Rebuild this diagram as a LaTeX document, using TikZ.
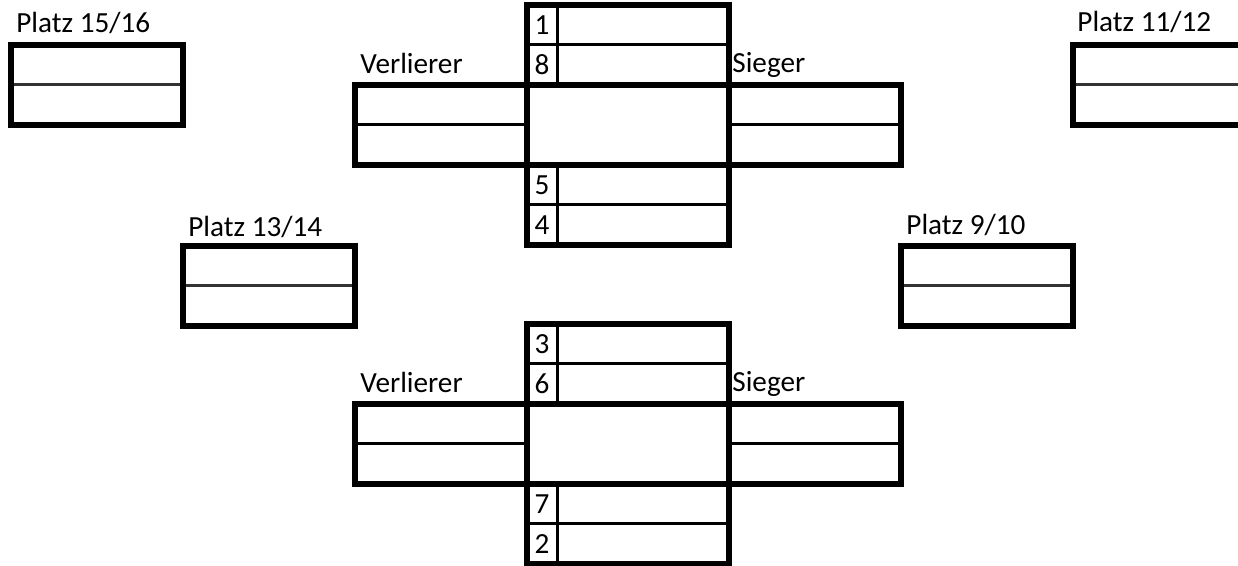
\documentclass[tikz,border=0pt]{standalone}
\usepackage{fontspec}
\setmainfont{Carlito}
\usetikzlibrary{positioning}

\begin{document}
\begin{tikzpicture}[
    x=0.5pt, y=-0.5pt,
    font=\fontsize{14.6}{17}\selectfont,
    cell/.style={rectangle, draw, line width=1.5pt, inner sep=0pt, outer sep=0pt},
    numcell/.style={cell, minimum width=15pt, minimum height=20pt},
    namecell/.style={cell, minimum width=86pt, minimum height=20pt},
    half/.style={cell, minimum width=86pt, minimum height=20pt},
    spot/.style={half, draw=black!80},
    core/.style={rectangle, inner sep=0pt, outer sep=0pt, minimum width=101pt, minimum height=40pt},
    frame/.style={draw, line width=3pt},
    caption/.style={anchor=base west, inner sep=0pt},
]

\clip (0,0) rectangle (1238,566);

% upper cross
\node[numcell]  (a1)  at (542,25) {1};
\node[namecell, right=0pt of a1] (a1n) {};
\node[numcell,  below=0pt of a1] (a8)  {8};
\node[namecell, right=0pt of a8] (a8n) {};
\node[core,     below right=0pt and 0pt of a8.south west] (a0) {};
\node[half,     below left=0pt and 0pt of a0.north west]  (aL1) {};
\node[half,     below=0pt of aL1] (aL2) {};
\node[half,     below right=0pt and 0pt of a0.north east] (aR1) {};
\node[half,     below=0pt of aR1] (aR2) {};
\node[numcell,  below right=0pt and 0pt of a0.south west] (a5) {5};
\node[namecell, right=0pt of a5] (a5n) {};
\node[numcell,  below=0pt of a5] (a4)  {4};
\node[namecell, right=0pt of a4] (a4n) {};

\draw[frame] (a1.north west)  rectangle (a4n.south east);
\draw[frame] (aL1.north west) rectangle (aR2.south east);

\node[caption] (aLose) at (360,74) {Verlierer};
\node[caption] (aWin)  at (732,73) {Sieger};

% lower cross
\node[numcell]  (b3)  at (542,344) {3};
\node[namecell, right=0pt of b3] (b3n) {};
\node[numcell,  below=0pt of b3] (b6)  {6};
\node[namecell, right=0pt of b6] (b6n) {};
\node[core,     below right=0pt and 0pt of b6.south west] (b0) {};
\node[half,     below left=0pt and 0pt of b0.north west]  (bL1) {};
\node[half,     below=0pt of bL1] (bL2) {};
\node[half,     below right=0pt and 0pt of b0.north east] (bR1) {};
\node[half,     below=0pt of bR1] (bR2) {};
\node[numcell,  below right=0pt and 0pt of b0.south west] (b7) {7};
\node[namecell, right=0pt of b7] (b7n) {};
\node[numcell,  below=0pt of b7] (b2)  {2};
\node[namecell, right=0pt of b2] (b2n) {};

\draw[frame] (b3.north west)  rectangle (b2n.south east);
\draw[frame] (bL1.north west) rectangle (bR2.south east);

\node[caption] (bLose) at (360,393) {Verlierer};
\node[caption] (bWin)  at (732,392) {Sieger};

% placement boxes
\node[spot] (p15a) at (97,65) {};
\node[spot, below=0pt of p15a] (p15b) {};
\node[spot] (p13a) at (269,266) {};
\node[spot, below=0pt of p13a] (p13b) {};
\node[spot] (p9a)  at (987,266) {};
\node[spot, below=0pt of p9a]  (p9b)  {};
\node[spot] (p11a) at (1159,65) {};
\node[spot, below=0pt of p11a] (p11b) {};

\draw[frame] (p15a.north west) rectangle (p15b.south east);
\draw[frame] (p13a.north west) rectangle (p13b.south east);
\draw[frame] (p9a.north west)  rectangle (p9b.south east);
\draw[frame] (p11a.north west) rectangle (p11b.south east);

\node[caption] (t15) at (16,33)   {Platz 15/16};
\node[caption] (t13) at (188,237) {Platz 13/14};
\node[caption] (t9)  at (906,235) {Platz 9/10};
\node[caption] (t11) at (1077,32) {Platz 11/12};

\end{tikzpicture}
\end{document}
